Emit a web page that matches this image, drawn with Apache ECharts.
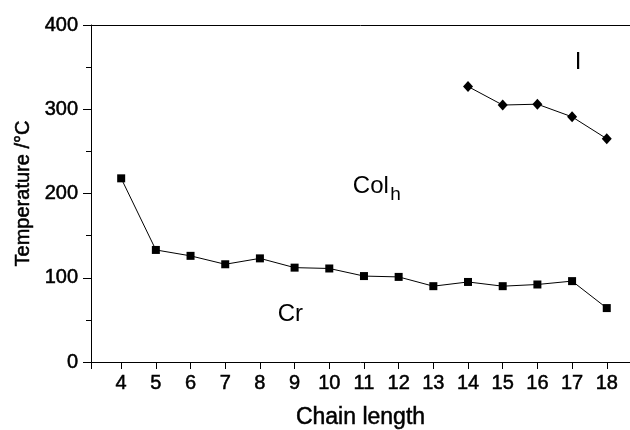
<!DOCTYPE html>
<html>
<head>
<meta charset="utf-8">
<script src="https://cdn.jsdelivr.net/npm/echarts@6/dist/echarts.min.js"></script>
<style>
  html, body { margin: 0; padding: 0; background: #fff; }
  #main { width: 630px; height: 430px; }
</style>
</head>
<body>
<div id="main"></div>
<script>
// chain lengths (x) and transition temperatures
var chainLengths = [4, 5, 6, 7, 8, 9, 10, 11, 12, 13, 14, 15, 16, 17, 18];
var crColh = [218, 133, 126, 116, 123, 112, 111, 102, 101, 90, 95, 90, 92, 96, 64];
var isoChain = [14, 15, 16, 17, 18];
var colhI = [327, 305, 306, 291, 265];
var yTicks = [0, 100, 200, 300, 400];

// phase names written inside the plot: [x, y, text]
var phaseLabels = [
    [8.88, 57, 'Cr'],
    [10.68, 209, 'Col'],
    [11.76, 198, 'h'],
    [17.17, 356, 'I']
];

var xMin = 3.13, xMax = 18.67;
var font = '"Liberation Sans", Arial, sans-serif';
var ink = '#000';

var chart = echarts.init(document.getElementById('main'));

function pairs(xs, ys) {
    var out = [];
    for (var i = 0; i < xs.length; i++) out.push([xs[i], ys[i]]);
    return out;
}

// scanned text looks a bit heavy, thicken it slightly
var heavy = { textBorderColor: ink, textBorderWidth: 0.5 };

var option = {
    animation: false,
    backgroundColor: '#fff',
    grid: {
        left: 91,
        right: 0,
        top: 25,
        bottom: 68,
        containLabel: false,
        outerBoundsMode: 'none'
    },
    xAxis: [
        {
            type: 'value',
            min: xMin,
            max: xMax,
            name: 'Chain length',
            nameLocation: 'middle',
            nameGap: 44,
            nameTextStyle: Object.assign({ fontFamily: font, fontSize: 23, color: ink }, heavy),
            axisLine: { show: true, onZero: false, lineStyle: { color: ink, width: 1 } },
            axisTick: { show: true, length: 7, inside: false, customValues: [xMin].concat(chainLengths), lineStyle: { color: ink } },
            axisLabel: Object.assign({ fontFamily: font, fontSize: 20, color: ink, margin: 11, customValues: chainLengths }, heavy),
            splitLine: { show: false }
        },
        {
            type: 'value',
            position: 'top',
            min: xMin,
            max: xMax,
            axisLine: { show: true, onZero: false, lineStyle: { color: ink, width: 1 } },
            axisTick: { show: false },
            axisLabel: { show: false },
            splitLine: { show: false }
        }
    ],
    yAxis: {
        type: 'value',
        min: 0,
        max: 400,
        interval: 100,
        name: 'Temperature /°C',
        nameLocation: 'middle',
        nameGap: 47,
        nameTextStyle: Object.assign({ fontFamily: font, fontSize: 20, color: ink }, heavy),
        axisLine: { show: true, onZero: false, lineStyle: { color: ink, width: 1 } },
        axisTick: { show: true, length: 8, inside: false, lineStyle: { color: ink } },
        minorTick: { show: true, splitNumber: 2, length: 5, lineStyle: { color: ink } },
        axisLabel: Object.assign({
            fontFamily: font, fontSize: 20, color: ink, margin: 13,
            formatter: function (v) { return yTicks.indexOf(v) >= 0 ? String(v) : ''; }
        }, heavy),
        splitLine: { show: false },
        minorSplitLine: { show: false }
    },
    series: [
        {
            name: 'Cr-Colh',
            type: 'line',
            data: pairs(chainLengths, crColh),
            symbol: 'rect',
            symbolSize: 8,
            itemStyle: { color: ink },
            lineStyle: { color: ink, width: 1 }
        },
        {
            name: 'Colh-I',
            type: 'line',
            data: pairs(isoChain, colhI),
            symbol: 'diamond',
            symbolSize: [10, 11],
            itemStyle: { color: ink },
            lineStyle: { color: ink, width: 1 }
        },
        {
            name: 'phases',
            type: 'scatter',
            symbolSize: 0,
            silent: true,
            itemStyle: { opacity: 1 },
            data: phaseLabels.map(function (p) {
                return {
                    value: [p[0], p[1]],
                    label: {
                        show: true,
                        position: 'inside',
                        align: p[2] === 'Col' || p[2] === 'h' ? 'left' : 'center',
                        verticalAlign: 'middle',
                        formatter: p[2],
                        fontFamily: font,
                        fontSize: p[2] === 'h' ? 19 : 24,
                        color: ink,
                        opacity: 1
                    }
                };
            })
        }
    ]
};

chart.setOption(option);
</script>
</body>
</html>
